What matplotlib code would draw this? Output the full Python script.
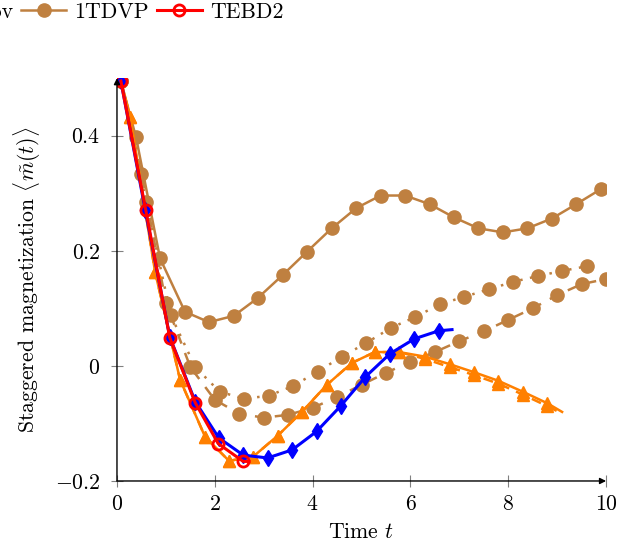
import numpy as np
import matplotlib
matplotlib.use("Agg")
import matplotlib.pyplot as plt
from matplotlib.lines import Line2D

plt.rcParams['font.family'] = 'serif'
plt.rcParams['font.serif'] = ['cmr10', 'DejaVu Serif']
plt.rcParams['mathtext.fontset'] = 'cm'
plt.rcParams['axes.formatter.use_mathtext'] = True

# 1TDVP (three bond dimensions / variants)
t_tdvp_a = [0.08, 0.39, 0.88, 1.39, 1.88, 2.39, 2.88, 3.39, 3.88, 4.39, 4.89,
            5.39, 5.89, 6.39, 6.89, 7.39, 7.89, 8.39, 8.89, 9.39, 9.89]
m_tdvp_a = [0.495, 0.397, 0.187, 0.094, 0.076, 0.087, 0.118, 0.158, 0.198, 0.239, 0.274,
            0.296, 0.296, 0.281, 0.258, 0.239, 0.232, 0.239, 0.256, 0.281, 0.307]
t_tdvp_b = [0.08, 0.6, 1.1, 1.6, 2.1, 2.6, 3.1, 3.6, 4.1, 4.6, 5.1,
            5.6, 6.1, 6.6, 7.1, 7.6, 8.1, 8.6, 9.1, 9.6]
m_tdvp_b = [0.495, 0.284, 0.088, -0.002, -0.045, -0.057, -0.052, -0.035, -0.01, 0.016, 0.04,
            0.066, 0.085, 0.107, 0.12, 0.133, 0.146, 0.156, 0.165, 0.173]
t_tdvp_c = [0.08, 0.5, 1.0, 1.5, 2.0, 2.5, 3.0, 3.5, 4.0, 4.5, 5.0,
            5.5, 6.0, 6.5, 7.0, 7.5, 8.0, 8.5, 9.0, 9.5, 10.0]
m_tdvp_c = [0.495, 0.334, 0.11, -0.002, -0.059, -0.083, -0.09, -0.085, -0.073, -0.054, -0.033,
            -0.012, 0.007, 0.024, 0.043, 0.06, 0.08, 0.1, 0.123, 0.142, 0.151]

# orange triangles (two variants)
t_or = [0.08, 0.27, 0.78, 1.29, 1.8, 2.29, 2.78, 3.29, 3.78, 4.29, 4.8,
        5.27, 5.77, 6.3, 6.8, 7.3, 7.8, 8.3, 8.8, 9.1]
m_or_a = [0.495, 0.432, 0.163, -0.024, -0.123, -0.165, -0.158, -0.121, -0.08, -0.033, 0.005,
          0.024, 0.024, 0.016, 0.003, -0.011, -0.026, -0.045, -0.065, -0.08]
m_or_b = [0.495, 0.432, 0.163, -0.024, -0.123, -0.165, -0.158, -0.121, -0.08, -0.033, 0.005,
          0.024, 0.024, 0.012, -0.002, -0.016, -0.031, -0.05, -0.07, -0.083]

# Krylov (blue diamonds)
t_kry = [0.08, 0.58, 1.08, 1.6, 2.08, 2.58, 3.08, 3.58, 4.08, 4.58, 5.08, 5.58, 6.08, 6.58, 6.85]
m_kry = [0.495, 0.27, 0.05, -0.062, -0.125, -0.155, -0.16, -0.146, -0.114, -0.069, -0.019,
         0.021, 0.047, 0.061, 0.063]

# TEBD2 (red open circles)
t_tebd = [0.08, 0.59, 1.08, 1.6, 2.07, 2.58, 2.7]
m_tebd = [0.495, 0.27, 0.049, -0.064, -0.135, -0.166, -0.166]

brown = '#BF8040'
orange = '#FF8000'
fs = 15.7

fig = plt.figure(figsize=(6.34, 5.54), dpi=100)
ax = fig.add_axes([0.1845, 0.1318, 0.7715, 0.7272])

ms = 9.5
ax.plot(t_tdvp_a, m_tdvp_a, color=brown, lw=1.8, marker='o', ms=ms)
ax.plot(t_tdvp_b, m_tdvp_b, color=brown, lw=1.8, ls=(0, (1, 3)), marker='o', ms=ms)
ax.plot(t_tdvp_c, m_tdvp_c, color=brown, lw=1.8, ls=(0, (4, 4)), marker='o', ms=ms)

mk_or = list(range(1, len(t_or) - 1))
ax.plot(t_or, m_or_b, color=orange, lw=1.8, ls=(0, (4, 3)), marker='^', ms=8.5, markevery=mk_or)
ax.plot(t_or, m_or_a, color=orange, lw=1.8, marker='^', ms=8.5, markevery=mk_or)

ax.plot(t_kry, m_kry, color='blue', lw=2.2, marker='d', ms=8,
        markevery=list(range(len(t_kry) - 1)))
ax.plot(t_tebd, m_tebd, color='red', lw=2.2, marker='o', ms=8, mfc='none', mew=2,
        markevery=list(range(len(t_tebd) - 1)))

ax.set_xlim(0, 10)
ax.set_ylim(-0.2, 0.5)
ax.set_xticks([0, 2, 4, 6, 8, 10])
ax.set_xticklabels(['$0$', '$2$', '$4$', '$6$', '$8$', '$10$'])
ax.set_yticks([-0.2, 0, 0.2, 0.4])
ax.set_yticklabels(['$-0.2$', '$0$', '$0.2$', '$0.4$'])
ax.tick_params(direction='inout', length=8, width=0.8, color='#808080',
               labelsize=fs, pad=8)
ax.tick_params(axis='x', pad=6)

for s in ['top', 'right', 'left', 'bottom']:
    ax.spines[s].set_visible(False)
ax.annotate('', xy=(1.0, 0), xytext=(0, 0), xycoords='axes fraction',
            arrowprops=dict(arrowstyle='-|>', lw=1.0, color='black', mutation_scale=9,
                            shrinkA=0, shrinkB=0))
ax.annotate('', xy=(0, 1.0), xytext=(0, 0), xycoords='axes fraction',
            arrowprops=dict(arrowstyle='-|>', lw=1.0, color='black', mutation_scale=9,
                            shrinkA=0, shrinkB=0))

ax.set_xlabel('Time $t$', fontsize=fs, labelpad=6)
ax.set_ylabel(r'Staggered magnetization $\langle\tilde{m}(t)\rangle$', fontsize=fs, labelpad=8)

handles = [
    Line2D([], [], color='blue', lw=2.2, marker='d', ms=8),
    Line2D([], [], color=brown, lw=1.8, marker='o', ms=ms),
    Line2D([], [], color='red', lw=2.2, marker='o', ms=8, mfc='none', mew=2),
]
fig.legend(handles, ['Krylov', '1TDVP', 'TEBD2'], loc='center right',
           bbox_to_anchor=(0.447, 0.978), ncol=3, frameon=False, fontsize=fs,
           borderpad=0, borderaxespad=0,
           handlelength=2.06, handletextpad=0.37, columnspacing=0.37)

fig.savefig('out.png', dpi=100)
